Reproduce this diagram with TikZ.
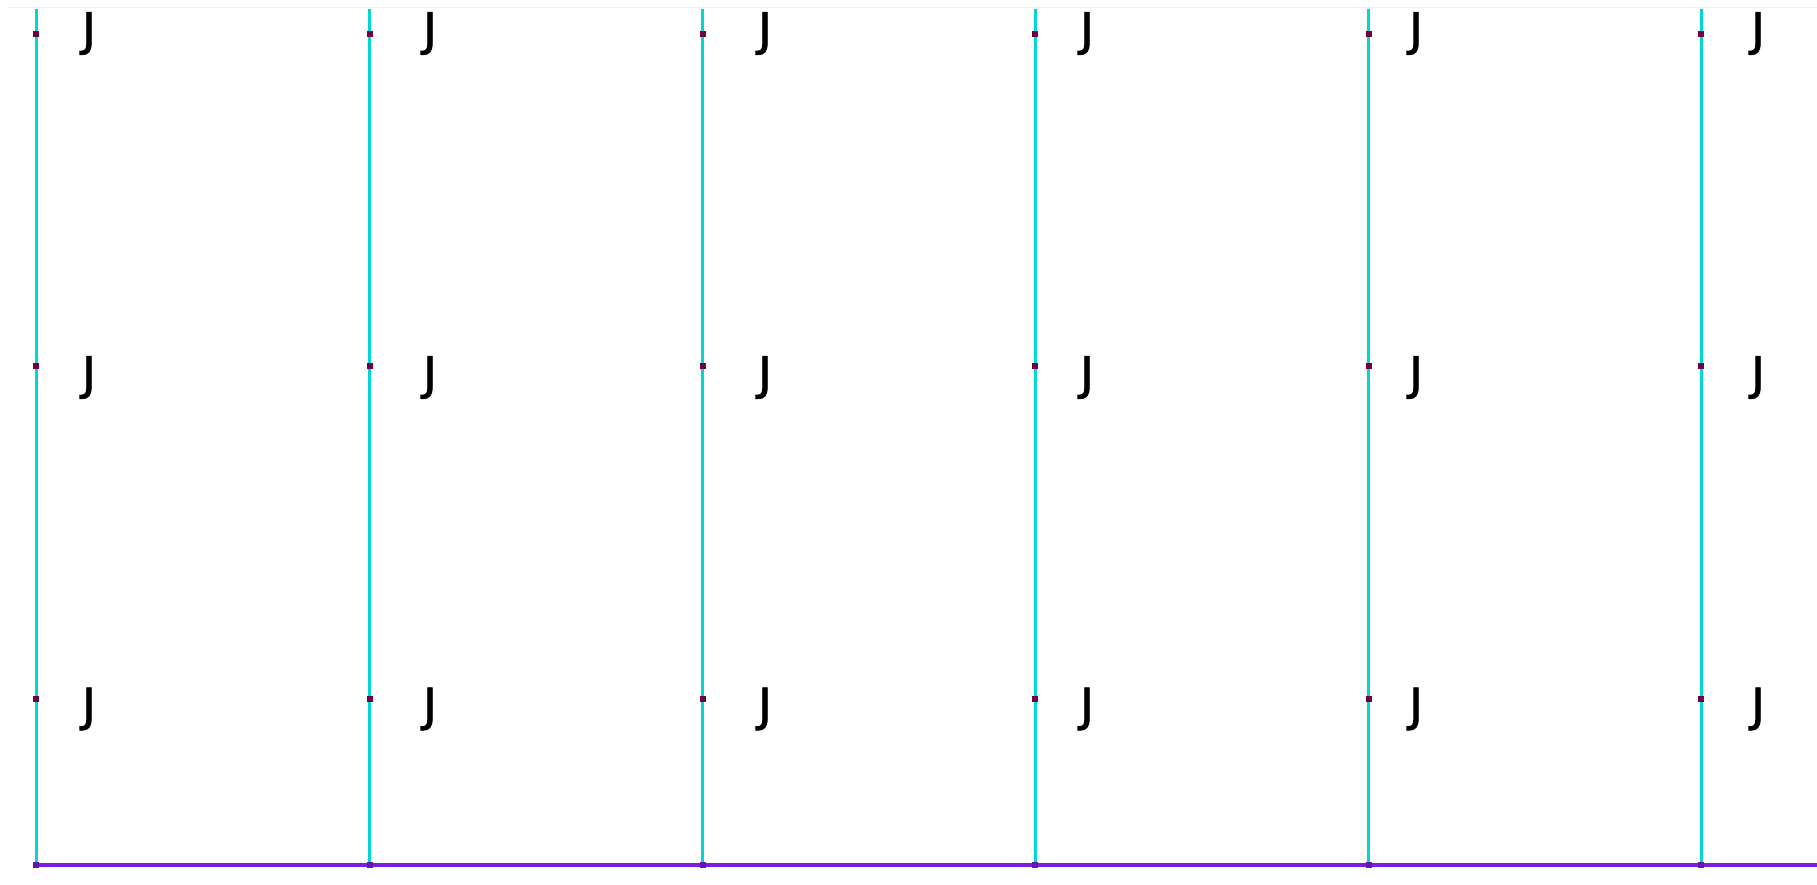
\documentclass[tikz,border=0pt]{standalone}
\usepackage{fontspec}
\setmainfont{DejaVu Sans}
\newfontfamily\jfont[FakeBold=1.6]{DejaVu Sans}
\definecolor{vcyan}{RGB}{0,214,214}
\definecolor{hpurple}{RGB}{122,28,226}
\definecolor{dotred}{RGB}{112,0,64}
\definecolor{faint}{RGB}{242,242,242}
\tikzset{
  vline/.style={draw=vcyan, line width=3pt},
  hline/.style={draw=hpurple, line width=4pt},
  rdot/.style={rectangle, fill=dotred, minimum size=6pt, inner sep=0pt},
  bdot/.style={rectangle, fill=hpurple!80!black, minimum size=6pt, inner sep=0pt},
  jlab/.style={inner sep=0pt, font=\jfont\fontsize{46}{46}\selectfont, text=black}
}
\begin{document}
\begin{tikzpicture}[x=1pt,y=-1pt]
\useasboundingbox (0,0) rectangle (1817,885);
\fill[white] (0,0) rectangle (1817,885);
\coordinate (fs) at (8,7.5);
\coordinate (fe) at (1817,7.5);
\draw[draw=faint, line width=1pt] (fs) -- (fe);
\foreach \i/\x in {1/36,2/369.5,3/702.5,4/1035,5/1368.5,6/1701} {
  \coordinate (t\i) at (\x,9);
  \coordinate (b\i) at (\x,865);
  \draw[vline] (t\i) -- (b\i);
}
\coordinate (e) at (1817,865);
\draw[hline] (b1) -- (e);
\foreach \i/\x/\jx in {1/36/89,2/369.5/430,3/702.5/765,4/1035/1087,5/1368.5/1416,6/1701/1758} {
  \node[bdot] (bd\i) at (b\i) {};
  \foreach \r/\y/\jy in {1/33.6/33.5,2/366/377.5,3/699/709} {
    \node[rdot] (d\i\r) at (\x,\y) {};
    \node[jlab] (j\i\r) at (\jx,\jy) {J};
  }
}
\end{tikzpicture}
\end{document}
